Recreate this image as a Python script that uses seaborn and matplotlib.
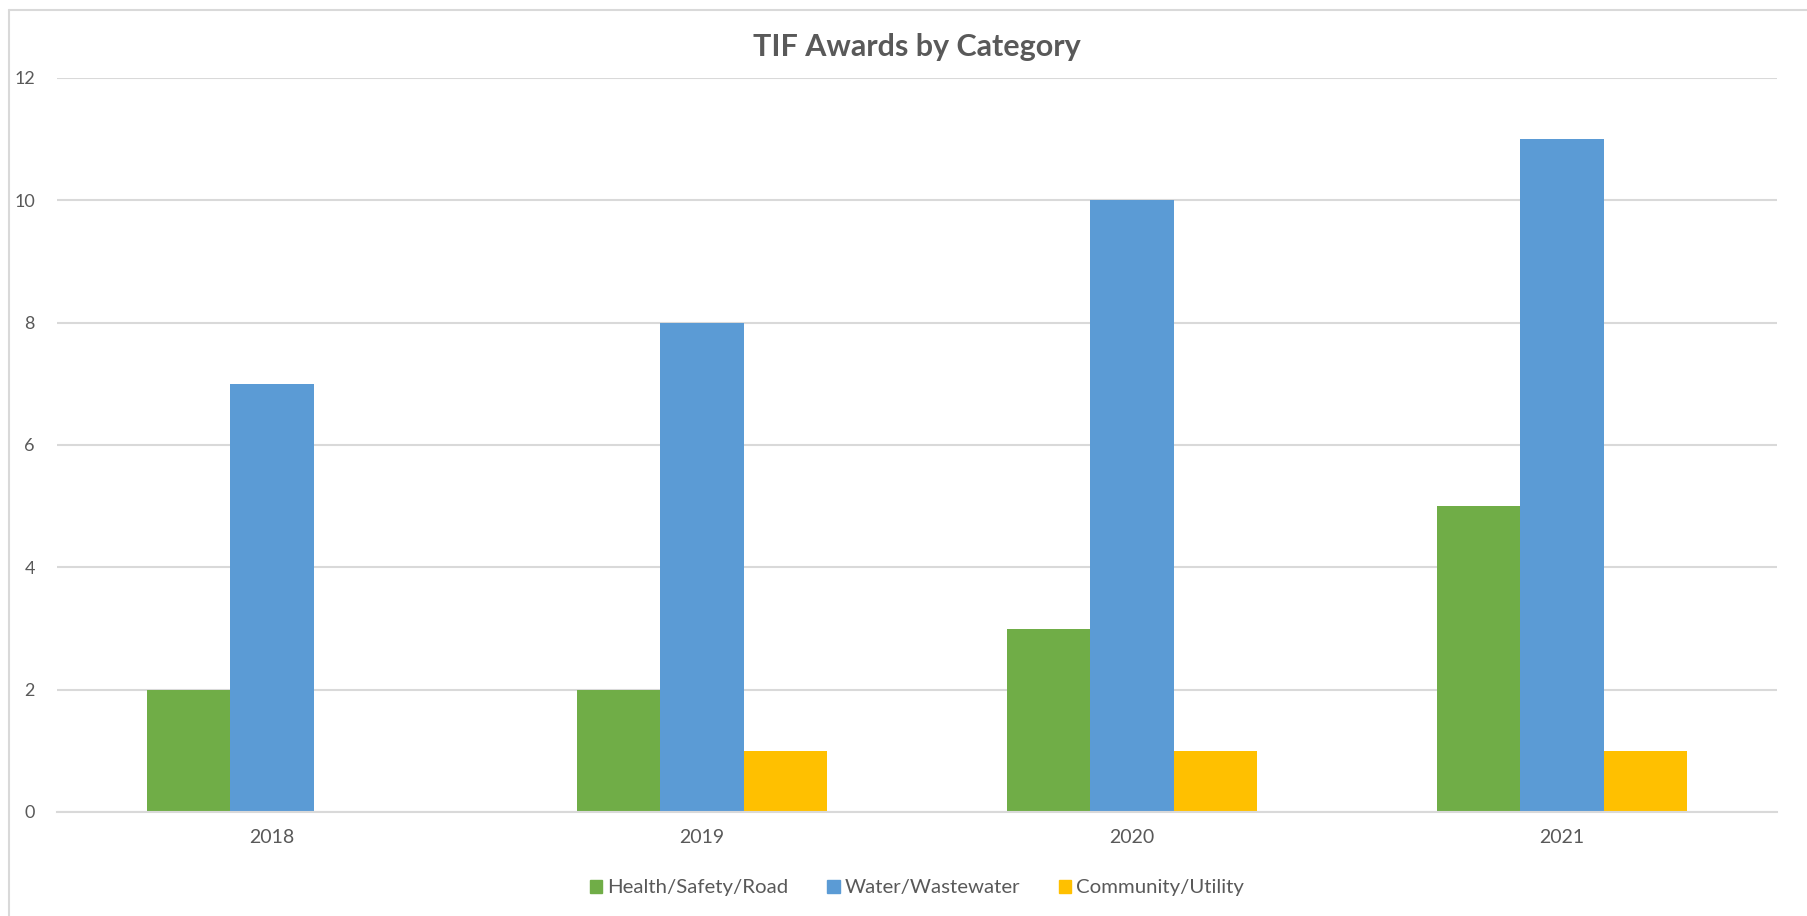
import pandas as pd
import matplotlib.pyplot as plt
import seaborn as sns
from matplotlib.lines import Line2D

# chart values
years = ['2018', '2019', '2020', '2021']
categories = ['Health/Safety/Road', 'Water/Wastewater', 'Community/Utility']
health_safety_road = [2, 2, 3, 5]
water_wastewater = [7, 8, 10, 11]
community_utility = [0, 1, 1, 1]
colors = ['#70AD47', '#5B9BD5', '#FFC000']


def plot_tif_awards():
    df = pd.DataFrame({
        'Year': years * 3,
        'Category': [categories[0]] * 4 + [categories[1]] * 4 + [categories[2]] * 4,
        'Awards': health_safety_road + water_wastewater + community_utility,
    })

    sns.set_style('white')
    plt.rcParams['font.family'] = ['Lato', 'DejaVu Sans']
    text_grey = '#595959'
    grid_grey = '#D9D9D9'

    fig = plt.figure(figsize=(18.07, 9.16), dpi=100)
    ax = fig.add_axes([57 / 1807, 1 - 812 / 916, 1720 / 1807, 734 / 916])

    sns.barplot(data=df, x='Year', y='Awards', hue='Category', order=years,
                hue_order=categories, palette=colors, width=0.58,
                errorbar=None, saturation=1, linewidth=0, ax=ax, legend=False)

    ax.set_ylim(0, 12)
    ax.set_yticks(range(0, 13, 2))
    ax.yaxis.grid(True, color=grid_grey, linewidth=1.5)
    ax.set_axisbelow(True)
    for side in ['top', 'right', 'left']:
        ax.spines[side].set_visible(False)
    ax.spines['bottom'].set_color(grid_grey)
    ax.spines['bottom'].set_linewidth(1.5)
    ax.set_xlabel('')
    ax.set_ylabel('')
    ax.tick_params(axis='both', length=0, labelcolor=text_grey)
    ax.tick_params(axis='y', pad=16, labelsize=13)
    ax.tick_params(axis='x', pad=12, labelsize=14)

    fig.text(917 / 1807, 1 - 47 / 916, 'TIF Awards by Category', ha='center',
             va='center', fontsize=22, fontweight='bold', color=text_grey)

    handles = [plt.Rectangle((0, 0), 1, 1, color=c) for c in colors]
    fig.legend(handles, categories, loc='center', ncol=3, frameon=False,
               bbox_to_anchor=(917 / 1807, 1 - 888 / 916), fontsize=14.7,
               labelcolor=text_grey, handlelength=0.6, handleheight=0.6,
               handletextpad=0.25, columnspacing=1.9)

    # outer chart border (left and top edges visible in the crop)
    fig.add_artist(Line2D([9 / 1807, 9 / 1807], [0, 1 - 10 / 916],
                          transform=fig.transFigure, color=grid_grey, linewidth=1.5))
    fig.add_artist(Line2D([9 / 1807, 1], [1 - 10 / 916, 1 - 10 / 916],
                          transform=fig.transFigure, color=grid_grey, linewidth=1.5))

    plt.savefig('out.png', dpi=100)


if __name__ == "__main__":
    plot_tif_awards()
